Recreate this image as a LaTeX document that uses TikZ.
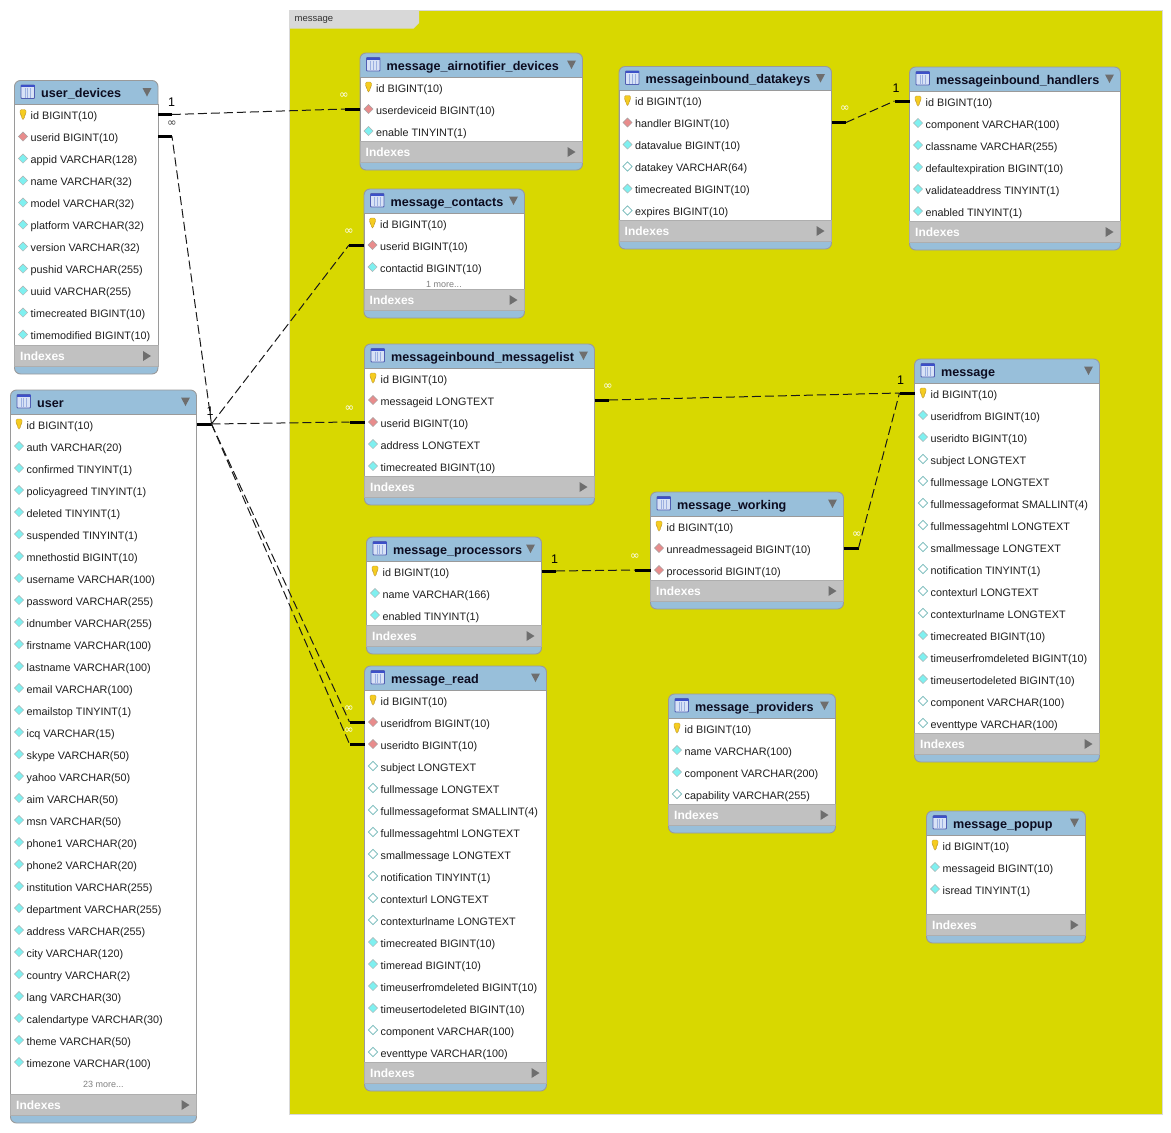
\documentclass[tikz,border=0pt]{standalone}
\usepackage{fontspec}
\setmainfont{Liberation Sans}
\newfontfamily\cardfont{DejaVu Sans}
\usetikzlibrary{calc, positioning}

\definecolor{layeryellow}{HTML}{D8D800}
\definecolor{tabgray}{HTML}{D8D8D8}
\definecolor{headblue}{HTML}{98BFDA}
\definecolor{framegray}{HTML}{9A9A9A}
\definecolor{idxgray}{HTML}{C1C1C1}
\definecolor{markgray}{HTML}{6E6E6E}
\definecolor{titleink}{HTML}{0C0C20}
\definecolor{rowink}{HTML}{1E1E1E}
\definecolor{keygold}{HTML}{F5CC20}
\definecolor{keyedge}{HTML}{C09A30}
\definecolor{fkred}{HTML}{E88C8C}
\definecolor{nncyan}{HTML}{7FF0F0}
\definecolor{openedge}{HTML}{70B8B8}
\definecolor{iconblue}{HTML}{3C50C8}
\definecolor{iconpale}{HTML}{D8E2F6}
\definecolor{iconline}{HTML}{9CB0E0}

\tikzset{
    tableframe/.style={draw=framegray, line width=0.9pt, fill=headblue, rounded corners=6pt,
                       inner sep=0pt, outer sep=0pt},
    tablebody/.style={draw=framegray, line width=0.9pt, fill=white},
    tableidx/.style={draw=framegray!80, line width=0.9pt, fill=idxgray},
    tabletitle/.style={anchor=west, inner sep=0pt, text height=10pt, text depth=0pt, text=titleink,
                       font=\fontsize{12.6}{14}\selectfont\bfseries},
    tablerow/.style={anchor=west, inner sep=0pt, text height=10pt, text depth=0pt, text=rowink,
                     font=\fontsize{10.8}{12}\selectfont},
    idxlabel/.style={anchor=west, inner sep=0pt, text=white,
                     font=\fontsize{12}{14}\selectfont\bfseries},
    morerow/.style={inner sep=0pt, text=black!50, font=\fontsize{9}{11}\selectfont},
    stub/.style={line width=3pt, black},
    rel/.style={line width=1pt, black!90, dash pattern=on 9pt off 4pt},
    cardone/.style={inner sep=0pt, font=\fontsize{12.5}{14}\selectfont},
    cardmany/.style={inner sep=0pt, text=white, font=\cardfont\fontsize{11.5}{12}\selectfont},
    cardmanydark/.style={cardmany, text=black!75}
}

% column marks, one per kind
\newcommand{\iconk}[1]{\draw[draw=keyedge, line width=0.4pt, fill=keygold, rounded corners=1.4pt]
    (#1) ++(-3,-5) -- ++(6,0) -- ++(0,4.5) -- ++(-1.7,1.5) -- ++(0,3.8) -- ++(-2.6,0) -- ++(0,-3.8) -- ++(-1.7,-1.5) -- cycle;}
\newcommand{\iconf}[1]{\draw[draw=black!35, line width=0.5pt, fill=fkred]
    (#1) ++(0,-4.6) -- ++(4.6,4.6) -- ++(-4.6,4.6) -- ++(-4.6,-4.6) -- cycle;}
\newcommand{\iconc}[1]{\draw[draw=black!30, line width=0.5pt, fill=nncyan]
    (#1) ++(0,-4.6) -- ++(4.6,4.6) -- ++(-4.6,4.6) -- ++(-4.6,-4.6) -- cycle;}
\newcommand{\icono}[1]{\draw[draw=openedge, line width=0.7pt, fill=white]
    (#1) ++(0,-4.6) -- ++(4.6,4.6) -- ++(-4.6,4.6) -- ++(-4.6,-4.6) -- cycle;}

% #1 name, #2 left, #3 right, #4 top, #5 y of Indexes, #6 title, #7 rows
\newcommand{\ertable}[7]{
  \pgfmathsetmacro{\tw}{#3-(#2)}
  \pgfmathsetmacro{\th}{#5+18-(#4)}
  \node[tableframe, minimum width=\tw, minimum height=\th] (#1) at ({(#2+#3)/2}, {(#4+#5+18)/2}) {};
  \fill[tablebody, draw=framegray] (#2,#4+24) rectangle (#3,#5-11);
  \draw[tableidx] (#2,#5-11) rectangle (#3,#5+10.5);
  \draw[draw=iconblue!70!gray, line width=0.8pt, fill=iconpale, rounded corners=0.8pt] (#2+6.5,#4+4.5) rectangle (#2+20,#4+18);
  \fill[iconblue] (#2+6.5,#4+4.5) rectangle (#2+20,#4+6.5);
  \foreach \cx in {10.5,13.3,16.1} \draw[iconline, line width=0.8pt] (#2+\cx,#4+7.5) -- (#2+\cx,#4+17);
  \node[tabletitle] (#1title) at (#2+26.5,#4+12) {#6};
  \fill[markgray] (#3-15.5,#4+7.5) -- (#3-6.5,#4+7.5) -- (#3-11,#4+16) -- cycle;
  \foreach \rowkind/\rowtext [count=\i] in {#7} {
    \node[tablerow] (#1\i) at (#2+16, {#4+34+22*(\i-1)}) {\rowtext};
    \csname icon\rowkind\endcsname{[xshift=-7.5pt]#1\i.west}
  }
  \node[idxlabel] (#1idx) at (#2+5.5,#5) {Indexes};
  \fill[markgray] (#3-15,#5-5) -- (#3-7,#5) -- (#3-15,#5+5) -- cycle;
}

\begin{document}
\begin{tikzpicture}[x=1pt, y=-1pt]

\useasboundingbox (0,0) rectangle (1171,1133);

% layer
\draw[draw=black!15, fill=layeryellow] (289.5,10.5) rectangle (1162,1114);
\fill[tabgray] (289.5,10.5) -- (419,10.5) -- (419,23) -- (413.5,28.5) -- (289.5,28.5) -- cycle;
\node[inner sep=0pt, anchor=west, font=\fontsize{9.5}{11}\selectfont, text=black!80] (layername) at (294.5,20) {message};

\ertable{ud}{14.5}{158}{80.5}{356}{user\_devices}{
  k/id BIGINT(10), f/userid BIGINT(10), c/appid VARCHAR(128), c/name VARCHAR(32),
  c/model VARCHAR(32), c/platform VARCHAR(32), c/version VARCHAR(32), c/pushid VARCHAR(255),
  c/uuid VARCHAR(255), c/timecreated BIGINT(10), c/timemodified BIGINT(10)}

\ertable{usr}{10.5}{196.5}{390}{1105}{user}{
  k/id BIGINT(10), c/auth VARCHAR(20), c/confirmed TINYINT(1), c/policyagreed TINYINT(1),
  c/deleted TINYINT(1), c/suspended TINYINT(1), c/mnethostid BIGINT(10), c/username VARCHAR(100),
  c/password VARCHAR(255), c/idnumber VARCHAR(255), c/firstname VARCHAR(100), c/lastname VARCHAR(100),
  c/email VARCHAR(100), c/emailstop TINYINT(1), c/icq VARCHAR(15), c/skype VARCHAR(50),
  c/yahoo VARCHAR(50), c/aim VARCHAR(50), c/msn VARCHAR(50), c/phone1 VARCHAR(20),
  c/phone2 VARCHAR(20), c/institution VARCHAR(255), c/department VARCHAR(255), c/address VARCHAR(255),
  c/city VARCHAR(120), c/country VARCHAR(2), c/lang VARCHAR(30), c/calendartype VARCHAR(30),
  c/theme VARCHAR(50), c/timezone VARCHAR(100)}
\node[morerow] (usrmore) at (103.5,1084) {23 more...};

\ertable{mad}{360}{582.5}{53}{152}{message\_airnotifier\_devices}{
  k/id BIGINT(10), f/userdeviceid BIGINT(10), c/enable TINYINT(1)}

\ertable{mdk}{619}{831.5}{66.5}{231}{messageinbound\_datakeys}{
  k/id BIGINT(10), f/handler BIGINT(10), c/datavalue BIGINT(10), o/datakey VARCHAR(64),
  c/timecreated BIGINT(10), o/expires BIGINT(10)}

\ertable{mih}{909.5}{1120.5}{67}{232}{messageinbound\_handlers}{
  k/id BIGINT(10), c/component VARCHAR(100), c/classname VARCHAR(255), c/defaultexpiration BIGINT(10),
  c/validateaddress TINYINT(1), c/enabled TINYINT(1)}

\ertable{mct}{364}{524.5}{189}{300}{message\_contacts}{
  k/id BIGINT(10), f/userid BIGINT(10), c/contactid BIGINT(10)}
\node[morerow] (mctmore) at (444,284) {1 more...};

\ertable{mil}{364.5}{594.5}{344}{487}{messageinbound\_messagelist}{
  k/id BIGINT(10), f/messageid LONGTEXT, f/userid BIGINT(10), c/address LONGTEXT,
  c/timecreated BIGINT(10)}

\ertable{msg}{914.5}{1099.5}{359}{744}{message}{
  k/id BIGINT(10), c/useridfrom BIGINT(10), c/useridto BIGINT(10), o/subject LONGTEXT,
  o/fullmessage LONGTEXT, o/fullmessageformat SMALLINT(4), o/fullmessagehtml LONGTEXT,
  o/smallmessage LONGTEXT, o/notification TINYINT(1), o/contexturl LONGTEXT,
  o/contexturlname LONGTEXT, c/timecreated BIGINT(10), c/timeuserfromdeleted BIGINT(10),
  c/timeusertodeleted BIGINT(10), o/component VARCHAR(100), o/eventtype VARCHAR(100)}

\ertable{mwk}{650.5}{843.5}{492}{591}{message\_working}{
  k/id BIGINT(10), f/unreadmessageid BIGINT(10), f/processorid BIGINT(10)}

\ertable{mpc}{366.5}{541.5}{537}{636}{message\_processors}{
  k/id BIGINT(10), c/name VARCHAR(166), c/enabled TINYINT(1)}

\ertable{mrd}{364.5}{546.5}{666}{1073}{message\_read}{
  k/id BIGINT(10), f/useridfrom BIGINT(10), f/useridto BIGINT(10), o/subject LONGTEXT,
  o/fullmessage LONGTEXT, o/fullmessageformat SMALLINT(4), o/fullmessagehtml LONGTEXT,
  o/smallmessage LONGTEXT, o/notification TINYINT(1), o/contexturl LONGTEXT,
  o/contexturlname LONGTEXT, c/timecreated BIGINT(10), c/timeread BIGINT(10),
  c/timeuserfromdeleted BIGINT(10), c/timeusertodeleted BIGINT(10), o/component VARCHAR(100),
  o/eventtype VARCHAR(100)}

\ertable{mpv}{668.5}{835.5}{694}{815}{message\_providers}{
  k/id BIGINT(10), c/name VARCHAR(100), c/component VARCHAR(200), o/capability VARCHAR(255)}

\ertable{mpp}{926.5}{1085.5}{811}{925}{message\_popup}{
  k/id BIGINT(10), c/messageid BIGINT(10), c/isread TINYINT(1)}

% stubs
\draw[stub] (ud.east |- ud1) -- ++(14,0) coordinate (udid);
\draw[stub] (ud.east |- ud2) -- ++(14,0) coordinate (uduser);
\draw[stub] (usr.east |- usr1) -- ++(15,0) coordinate (usrid);
\draw[stub] (mad.west |- mad2) -- ++(-15,0) coordinate (maddev);
\draw[stub] (mct.west |- mct2) -- ++(-15,0) coordinate (mctuser);
\draw[stub] (mil.west |- mil3) -- ++(-15,0) coordinate (miluser);
\draw[stub] (mrd.west |- mrd2) -- ++(-15,0) coordinate (mrdfrom);
\draw[stub] (mrd.west |- mrd3) -- ++(-15,0) coordinate (mrdto);
\draw[stub] (mdk.east |- mdk2) -- ++(14.5,0) coordinate (mdkhandler);
\draw[stub] (mih.west |- mih1) -- ++(-15,0) coordinate (mihid);
\draw[stub] (mil.east |- mil2) -- ++(14.5,0) coordinate (milmsg);
\draw[stub] (msg.west |- msg1) -- ++(-15,0) coordinate (msgid);
\draw[stub] (mpc.east |- mpc1) -- ++(14.5,0) coordinate (mpcid);
\draw[stub] (mwk.west |- mwk3) -- ++(-15.5,0) coordinate (mwkproc);
\draw[stub] (mwk.east |- mwk2) -- ++(15,0) coordinate (mwkunread);

% relations
\draw[rel] (udid) -- (maddev);
\draw[rel] (usrid) -- (uduser);
\draw[rel] (usrid) -- (mctuser);
\draw[rel] (usrid) -- (miluser);
\draw[rel] (usrid) -- (mrdfrom);
\draw[rel] (usrid) -- (mrdto);
\draw[rel] (mdkhandler) -- (mihid);
\draw[rel] (milmsg) -- (msgid);
\draw[rel] (mwkunread) -- (msgid);
\draw[rel] (mpcid) -- (mwkproc);

% cardinalities
\node[cardone] (c1) at (171.5,102.5) {1};
\node[cardmanydark] (c2) at (172,124) {∞};
\node[cardmany] (c3) at (344,96) {∞};
\node[cardone] (c4) at (210,411) {1};
\node[cardmany] (c5) at (349,232) {∞};
\node[cardmany] (c6) at (349.5,409) {∞};
\node[cardmany] (c7) at (349,709) {∞};
\node[cardmany] (c8) at (349,731) {∞};
\node[cardmany] (c9) at (845,108.5) {∞};
\node[cardone] (c10) at (896,88.5) {1};
\node[cardmany] (c11) at (608,386.5) {∞};
\node[cardone] (c12) at (900.5,380.5) {1};
\node[cardone] (c13) at (554.5,559) {1};
\node[cardmany] (c14) at (635,556.5) {∞};
\node[cardmany] (c15) at (857,535) {∞};

\end{tikzpicture}
\end{document}
